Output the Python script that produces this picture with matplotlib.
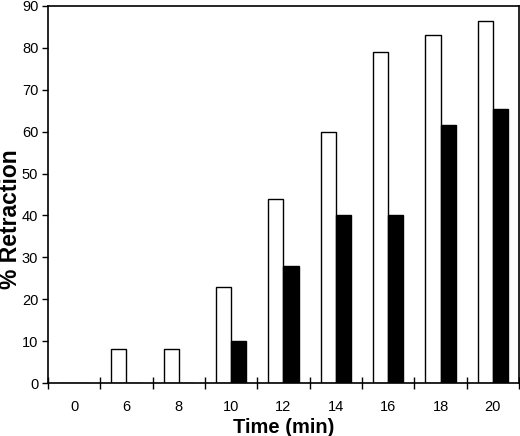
import matplotlib
matplotlib.use("Agg")
import matplotlib.pyplot as plt
import numpy as np

plt.rcParams['font.family'] = ['Liberation Sans', 'DejaVu Sans']

categories = ["0", "6", "8", "10", "12", "14", "16", "18", "20"]
open_values = [0, 8, 8, 23, 44, 60, 79, 83, 86.5]
filled_values = [0, 0, 0, 10, 28, 40, 40, 61.5, 65.5]
y_ticks = [0, 10, 20, 30, 40, 50, 60, 70, 80, 90]

fig = plt.figure(figsize=(5.2, 4.36), dpi=100)
ax = fig.add_axes([48/520, 53/436, 471/520, 377/436])

x = np.arange(len(categories))
w = 0.29
ax.bar(x - w/2, open_values, width=w, color='white', edgecolor='black', linewidth=1.0)
ax.bar(x + w/2, filled_values, width=w, color='black', edgecolor='black', linewidth=1.0)

ax.set_xlim(-0.5, len(categories) - 0.5)
ax.set_ylim(0, 90)
ax.set_yticks(y_ticks)
ax.set_yticklabels([str(t) for t in y_ticks], fontsize=10.5)

ax.set_xticks(np.arange(len(categories) + 1) - 0.5)
ax.set_xticklabels([])
ax.set_xticks(x, minor=True)
ax.set_xticklabels(categories, minor=True, fontsize=10.5)
ax.tick_params(axis='x', which='major', direction='inout', length=8, width=1)
ax.tick_params(axis='x', which='minor', length=0, pad=12)
ax.tick_params(axis='y', direction='out', length=4, width=1, pad=3)

for s in ax.spines.values():
    s.set_linewidth(1.2)

ax.set_xlabel("Time (min)", fontsize=14.5, fontweight='bold')
ax.set_ylabel("% Retraction", fontsize=16.5, fontweight='bold')
ax.xaxis.set_label_coords(0.501, -0.117)
ax.xaxis.label.set_va('center')
ax.yaxis.set_label_coords(-0.0786, 0.435)
ax.yaxis.label.set_va('center')

fig.savefig("out.png", dpi=100)
